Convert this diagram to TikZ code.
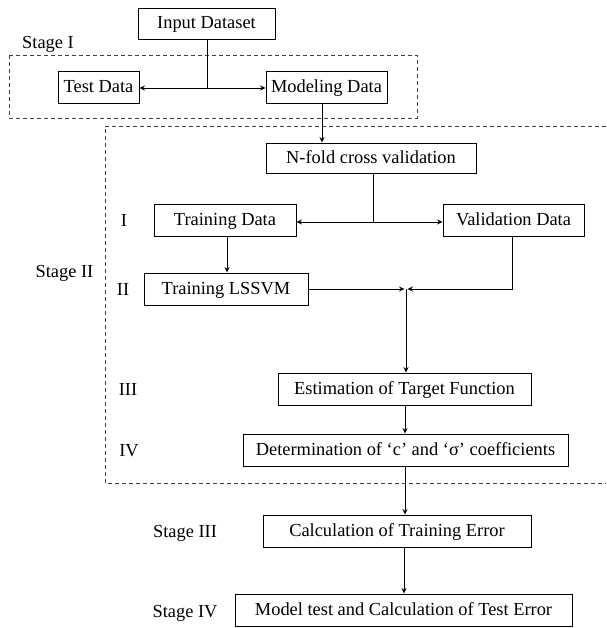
\documentclass[tikz,border=0pt]{standalone}
\usepackage{fontspec}
\setmainfont{Liberation Serif}
\usetikzlibrary{arrows.meta}
\begin{document}
\begin{tikzpicture}[x=1pt,y=-1pt,
  box/.style={draw, line width=0.9pt, inner sep=0pt, text height=15pt, text depth=4pt, font=\fontsize{18.4}{20}\selectfont},
  lbl/.style={font=\fontsize{18.4}{20}\selectfont, inner sep=0pt, text height=15pt, text depth=4pt},
  conn/.style={line width=0.9pt},
  arr/.style={conn, -{Stealth[length=5.5pt,width=5pt]}},
  dbox/.style={draw=black!75, line width=0.9pt, dash pattern=on 4pt off 3pt}]
\useasboundingbox (0,0) rectangle (606,628);
% dashed stage frames
\draw[dbox] (9,55) rectangle (417,118);
\draw[dbox] (606,126) -- (105,126) -- (105,483) -- (606,483);
% boxes
\node[box, minimum width=137pt, minimum height=31pt] (inp) at (206.5,23.5) {Input Dataset};
\node[box, minimum width=81pt, minimum height=32pt] (test) at (98.5,87) {Test Data};
\node[box, minimum width=121pt, minimum height=32pt] (model) at (326.5,87) {Modeling Data};
\node[box, minimum width=210pt, minimum height=30pt] (nfold) at (371,158) {N-fold cross validation};
\node[box, minimum width=142pt, minimum height=32pt] (train) at (225,220) {Training Data};
\node[box, minimum width=141pt, minimum height=32pt] (valid) at (513.5,220) {Validation Data};
\node[box, minimum width=164pt, minimum height=32pt] (lssvm) at (226,289) {Training LSSVM};
\node[box, minimum width=253pt, minimum height=32pt] (est) at (404.5,389) {Estimation of Target Function};
\node[box, minimum width=325pt, minimum height=32pt] (det) at (405.5,450) {Determination of ‘c’ and ‘σ’ coefficients};
\node[box, minimum width=268pt, minimum height=32pt] (calc) at (397,531) {Calculation of Training Error};
\node[box, minimum width=337pt, minimum height=32pt] (mtest) at (403.5,610) {Model test and Calculation of Test Error};
% labels
\node[lbl, anchor=west] (s1) at (22,43) {Stage I};
\node[lbl] (s2) at (64.5,272) {Stage II};
\node[lbl] (r1) at (124,221) {I};
\node[lbl] (r2) at (123,290) {II};
\node[lbl] (r3) at (128,390) {III};
\node[lbl] (r4) at (129,451) {IV};
\node[lbl] (s3) at (185,532) {Stage III};
\node[lbl] (s4) at (185,612) {Stage IV};
% connectors
\coordinate (j1) at (207,88);
\draw[conn] (inp.south -| j1) -- (j1);
\draw[arr] (j1) -- (j1 -| test.east);
\draw[arr] (j1) -- (j1 -| model.west);
\coordinate (mx) at (322,0);
\draw[arr] (model.south -| mx) -- (nfold.north -| mx);
\coordinate (j2) at (373,222);
\draw[conn] (nfold.south -| j2) -- (j2);
\draw[arr] (j2) -- (j2 -| train.east);
\draw[arr] (j2) -- (j2 -| valid.west);
\coordinate (tx) at (227,0);
\draw[arr] (train.south -| tx) -- (lssvm.north -| tx);
\coordinate (m) at (406,289);
\coordinate (vx) at (512,0);
\draw[arr] (lssvm.east) -- ([xshift=-1.5pt]m);
\draw[arr] (valid.south -| vx) -- (vx |- m) -- ([xshift=1.5pt]m);
\draw[arr] (m) -- (est.north -| m);
\coordinate (cx) at (405,0);
\draw[arr] (est.south -| cx) -- (det.north -| cx);
\draw[arr] (det.south -| cx) -- (calc.north -| cx);
\coordinate (dx) at (404,0);
\draw[arr] (calc.south -| dx) -- (mtest.north -| dx);
\end{tikzpicture}
\end{document}
